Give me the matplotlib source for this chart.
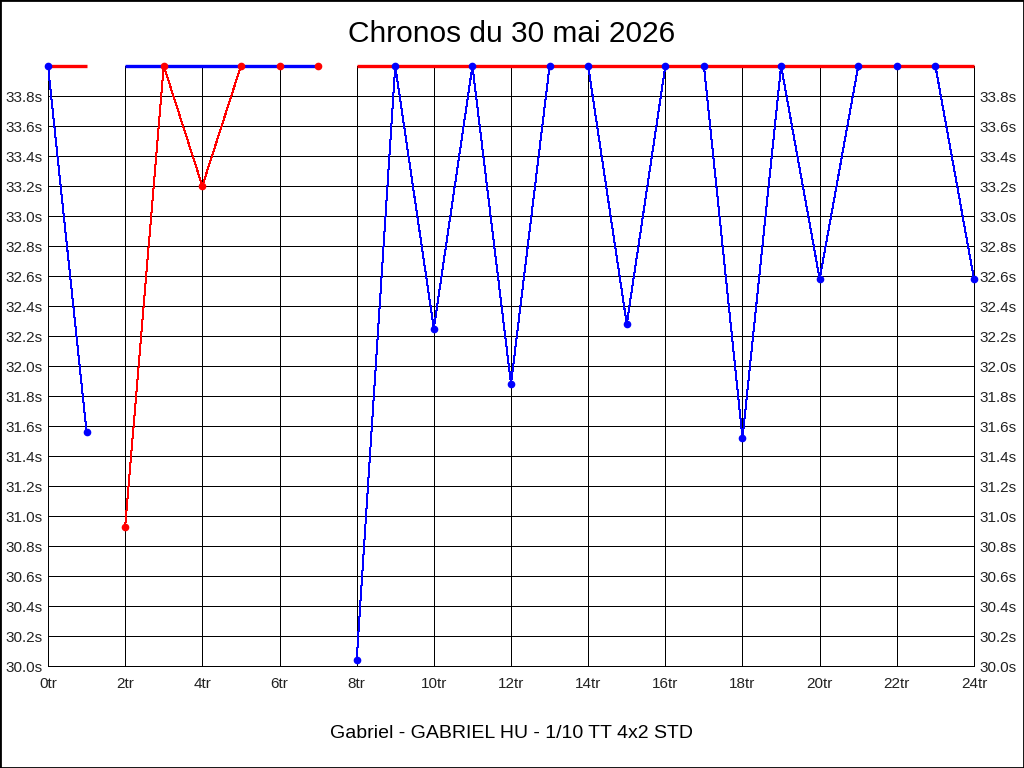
import numpy as np
import matplotlib
matplotlib.use("Agg")
import matplotlib.pyplot as plt
from matplotlib.patches import Rectangle

plt.rcParams['font.family'] = ['Liberation Sans', 'DejaVu Sans']

# chronos par tour (34.0 = hors echelle, colle en haut)
tours = list(range(25))
chronos = [34.0, 31.56, 30.93, 34.0, 33.20, 34.0, 34.0, 34.0,
           30.04, 34.0, 32.25, 34.0, 31.88, 34.0, 34.0, 32.28,
           34.0, 34.0, 31.52, 34.0, 32.58, 34.0, 34.0, 34.0, 32.58]

# segments de la session (premier et dernier tour)
seg_debut = [0, 2, 8]
seg_fin = [1, 7, 24]

titre = "Chronos du 30 mai 2026"
pilote = "Gabriel - GABRIEL HU - 1/10 TT 4x2 STD"

couleur_pts = ['blue', 'red', 'blue']
couleur_barre = ['red', 'blue', 'red']

ymin, ymax = 30.0, 34.0

fig = plt.figure(figsize=(10.24, 7.68), dpi=100)
ax = fig.add_axes([48/1024, 1-666/768, (974-48)/1024, 600/768])

x = np.array(tours)
y = np.minimum(np.array(chronos), ymax)

for d, f, cp, cb in zip(seg_debut, seg_fin, couleur_pts, couleur_barre):
    xs = x[d:f+1]
    ys = y[d:f+1]
    ax.plot(xs, ys, color=cp, lw=0.72, zorder=3, antialiased=False)
    ax.plot([xs[0], xs[-1]], [ymax, ymax], color=cb, lw=2.4, zorder=4,
            clip_on=False, solid_capstyle='butt')
    ax.plot(xs, ys, 'o', color=cp, ms=4.5, zorder=5, clip_on=False)

ax.set_xlim(0, 24)
ax.set_ylim(ymin, ymax)
ax.set_xticks(np.arange(0, 25, 2))
ax.set_xticklabels([f"{t}tr" for t in range(0, 25, 2)])
yt = np.arange(30.0, 33.81, 0.2)
ax.set_yticks(yt)
ax.set_yticklabels([f"{v:.1f}s" for v in yt])
ax.tick_params(axis='both', length=0, labelsize=11, colors='#222222')
ax.tick_params(axis='y', labelright=True, pad=4)
ax.tick_params(axis='x', pad=8)
ax.grid(True, color='black', lw=0.72, antialiased=False)
ax.set_axisbelow(True)
ax.spines['top'].set_visible(False)
for s in ['left', 'right', 'bottom']:
    ax.spines[s].set_color('black')
    ax.spines[s].set_linewidth(0.72)
    ax.spines[s].set_antialiased(False)

fig.text(0.5, 1-34/768, titre, ha='center', va='center', fontsize=21.5)
fig.text(0.5, 1-733/768, pilote, ha='center', va='center', fontsize=14)

fig.add_artist(Rectangle((0, 0), 1, 1, transform=fig.transFigure,
                         fill=False, edgecolor='black', lw=2))

fig.savefig("out.png", dpi=100)
